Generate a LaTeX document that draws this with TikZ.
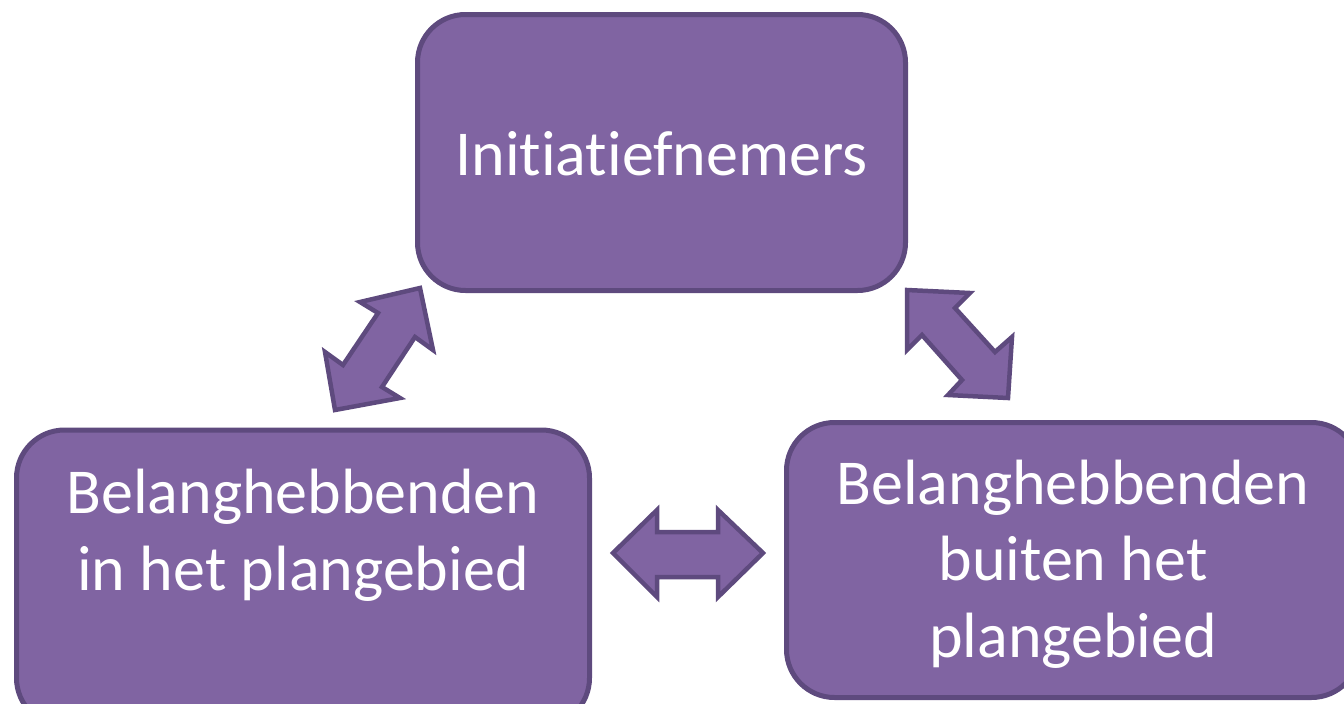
\documentclass[tikz,border=0pt]{standalone}
\usepackage{fontspec}
\setmainfont{Carlito}[Ligatures={NoCommon,NoRequired,NoContextual}]
\definecolor{boxfill}{HTML}{8064A2}
\definecolor{boxline}{HTML}{5E4A7E}
\begin{document}
\begin{tikzpicture}[x=1pt,y=-1pt,
  box/.style={draw=boxline,fill=boxfill,line width=5pt,rounded corners=48pt,inner sep=0pt},
  lbl/.style={text=white,font=\fontsize{64}{76.5}\selectfont,align=center,anchor=base,inner sep=0pt},
  blockarrow/.style={draw=boxline,fill=boxfill,line width=4.5pt,line join=miter}]
\useasboundingbox (0,0) rectangle (1344,704);
\clip (0,0) rectangle (1344,704);
% boxes
\node[box,minimum width=488pt,minimum height=276pt] (top) at (661.5,152.5) {};
\node[box,minimum width=573pt,minimum height=296pt] (left) at (303,578) {};
\node[box,minimum width=573pt,minimum height=275pt] (right) at (1073,560) {};
% texts
\node[lbl] (ttop) at (661.5,175) {Initiatiefnemers};
\node[lbl] (tleft) at (303,590) {Belanghebbenden\\in het plangebied};
\node[lbl] (tright) at (1073,657) {Belanghebbenden\\buiten het\\plangebied};
% block arrows
\draw[blockarrow] (420,288) -- (433,350) -- (415,337) -- (382,387) -- (400,398) -- (335,410)
  -- (325,352) -- (343,365) -- (378,313) -- (360,302) -- cycle;
\draw[blockarrow] (907,290) -- (970,293) -- (955,308) -- (995,352) -- (1012,337) -- (1008,398)
  -- (948,395) -- (962,380) -- (922,335) -- (907,350) -- cycle;
\draw[blockarrow] (613,553) -- (657,510) -- (657,532) -- (718,532) -- (718,510) -- (763,553)
  -- (718,597) -- (718,577) -- (657,577) -- (657,597) -- cycle;
\end{tikzpicture}
\end{document}
